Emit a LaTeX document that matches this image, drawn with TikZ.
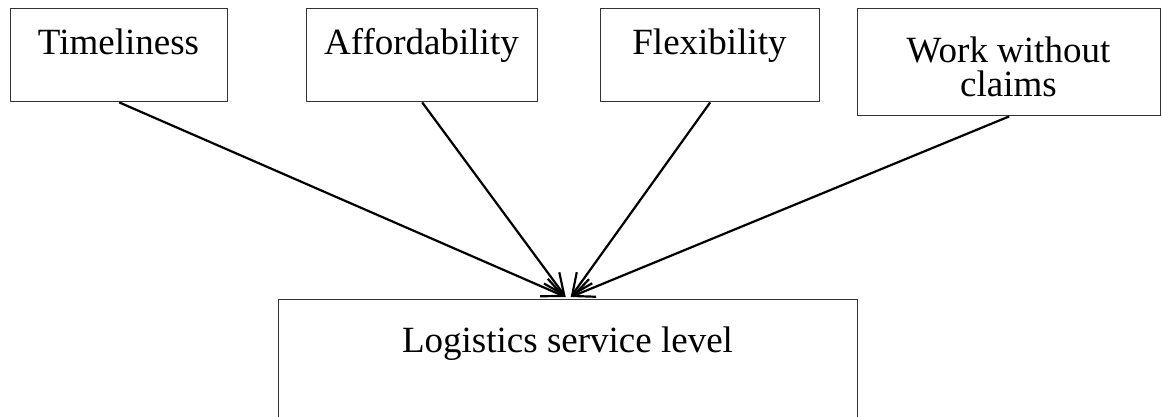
\documentclass[tikz,border=0pt]{standalone}
\usepackage{fontspec}
\setmainfont{Liberation Serif}
\usetikzlibrary{arrows.meta,calc}
\begin{document}
\begin{tikzpicture}[x=1pt,y=-1pt,
  box/.style={draw=black!80, line width=1.4pt, rectangle, inner sep=0pt, anchor=north west},
  boxtext/.style={anchor=base, font=\fontsize{37}{34}\selectfont, align=center, inner sep=0pt},
  link/.style={line width=2.2pt, -{Straight Barb[length=21pt,width=19pt]}}]
\useasboundingbox (0,0) rectangle (1162,417);
\clip (0,0) rectangle (1162,417);

% factor boxes
\node[box, minimum width=217pt, minimum height=93pt]  (tim) at (10,8)  {};
\node[box, minimum width=231pt, minimum height=93pt]  (aff) at (306,8) {};
\node[box, minimum width=219pt, minimum height=93pt]  (fle) at (600,8) {};
\node[box, minimum width=303pt, minimum height=107pt] (wwc) at (857,8) {};

% result box (runs past the lower edge)
\node[box, minimum width=579pt, minimum height=150pt] (lsl) at (278,299) {};

% texts (base anchor = baseline of the last line)
\node[boxtext] (timT) at (118.5,55) {Timeliness};
\node[boxtext] (affT) at (421.5,55) {Affordability};
\node[boxtext] (fleT) at (709.5,55) {Flexibility};
\node[boxtext] (wwcT) at (1008.5,97) {Work without\\claims};
\node[boxtext] (lslT) at (567.5,352) {Logistics service level};

% arrow targets on top of the result box
\coordinate (inL) at ($(lsl.north)+(-2.5,-2)$);
\coordinate (inR) at ($(lsl.north)+(2.5,-2)$);

\draw[link] (tim.south) -- (inL);
\draw[link] (aff.south) -- (inL);
\draw[link] (fle.south) -- (inR);
\draw[link] (wwc.south) -- (inR);
\end{tikzpicture}
\end{document}
